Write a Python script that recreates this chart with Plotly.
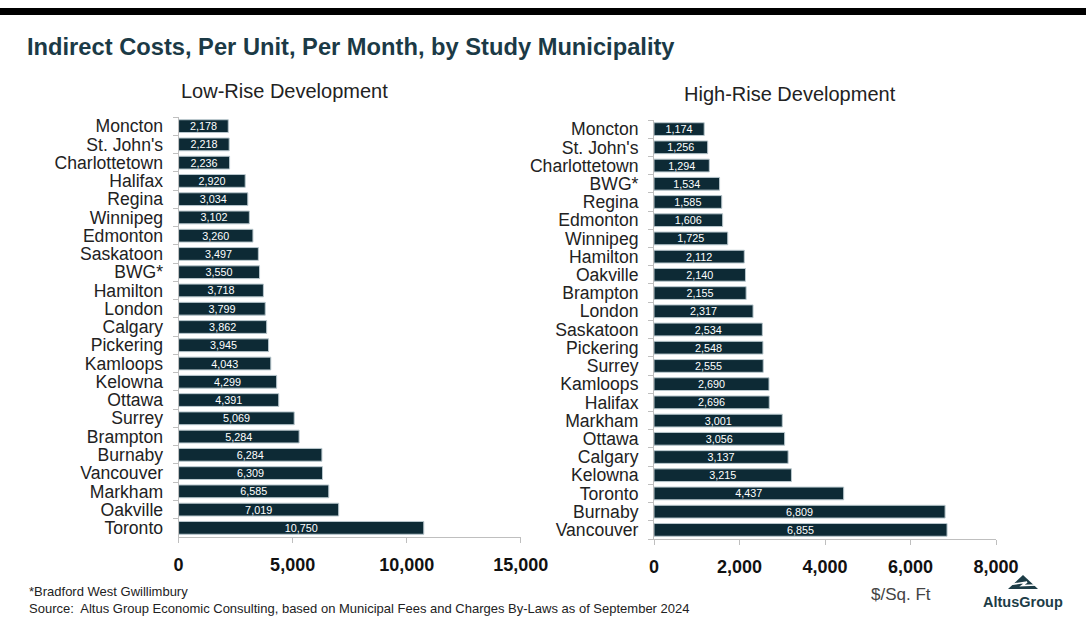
import plotly.graph_objects as go

low_cities = ["Moncton", "St. John's", "Charlottetown", "Halifax", "Regina", "Winnipeg",
              "Edmonton", "Saskatoon", "BWG*", "Hamilton", "London", "Calgary", "Pickering",
              "Kamloops", "Kelowna", "Ottawa", "Surrey", "Brampton", "Burnaby", "Vancouver",
              "Markham", "Oakville", "Toronto"]
low_values = [2178, 2218, 2236, 2920, 3034, 3102, 3260, 3497, 3550, 3718, 3799, 3862, 3945,
              4043, 4299, 4391, 5069, 5284, 6284, 6309, 6585, 7019, 10750]

high_cities = ["Moncton", "St. John's", "Charlottetown", "BWG*", "Regina", "Edmonton",
               "Winnipeg", "Hamilton", "Oakville", "Brampton", "London", "Saskatoon",
               "Pickering", "Surrey", "Kamloops", "Halifax", "Markham", "Ottawa", "Calgary",
               "Kelowna", "Toronto", "Burnaby", "Vancouver"]
high_values = [1174, 1256, 1294, 1534, 1585, 1606, 1725, 2112, 2140, 2155, 2317, 2534, 2548,
               2555, 2690, 2696, 3001, 3056, 3137, 3215, 4437, 6809, 6855]

low_ticks = [0, 5000, 10000, 15000]
high_ticks = [0, 2000, 4000, 6000, 8000]

W, H = 1086, 626
def px(x):
    return x / W
def py(y):
    return 1 - y / H

BAR = "#0d2a35"
EDGE = "#b9c8ce"
AXIS = "#bfbfbf"
FONT = "Liberation Sans, Arial, sans-serif"

fig = go.Figure()

def add_bars(cities, values, xa, ya):
    fig.add_trace(go.Bar(
        y=cities, x=values, orientation="h",
        marker=dict(color=BAR, line=dict(color=EDGE, width=1)),
        text=[f"{v:,}" for v in values],
        textposition="inside", insidetextanchor="middle",
        textangle=0, constraintext="none",
        textfont=dict(family=FONT, size=10.8, color="white"),
        xaxis=xa, yaxis=ya, showlegend=False, hoverinfo="skip",
    ))

add_bars(low_cities, low_values, "x", "y")
add_bars(high_cities, high_values, "x2", "y2")

xcommon = dict(showgrid=False, zeroline=False, showline=True, linecolor=AXIS, linewidth=1,
               ticks="outside", ticklen=5, tickcolor=AXIS, automargin=False,
               tickfont=dict(family=FONT, size=18, color="#111", weight=700),
               ticklabelstandoff=6)
ycommon = dict(showgrid=False, zeroline=False, showline=True, linecolor=AXIS, linewidth=1,
               ticks="outside", ticklen=5, tickcolor=AXIS, tickson="boundaries",
               automargin=False,
               tickfont=dict(family=FONT, size=17.6, color="#222"),
               autorange="reversed", ticklabelstandoff=11)

fig.update_layout(
    width=W, height=H, autosize=False,
    margin=dict(l=0, r=0, t=0, b=0, pad=0),
    paper_bgcolor="white", plot_bgcolor="white",
    bargap=0.3,
    xaxis=dict(domain=[px(178.6), px(520.7)], range=[0, 15000], tickvals=low_ticks,
               ticktext=[f"{t:,}" for t in low_ticks], anchor="y", **xcommon),
    yaxis=dict(domain=[py(537), py(117)], anchor="x", tickmode="array",
               tickvals=low_cities, ticktext=low_cities, **ycommon),
    xaxis2=dict(domain=[px(654), px(996)], range=[0, 8000], tickvals=high_ticks,
                ticktext=[f"{t:,}" for t in high_ticks], anchor="y2", **xcommon),
    yaxis2=dict(domain=[py(539), py(120)], anchor="x2", tickmode="array",
                tickvals=high_cities, ticktext=high_cities, **ycommon),
)

# top black band
fig.add_shape(type="rect", xref="paper", yref="paper", x0=0, x1=1, y0=py(15), y1=py(8),
              fillcolor="black", line=dict(width=0))

ann = []
ann.append(dict(text="Indirect Costs, Per Unit, Per Month, by Study Municipality",
                x=px(25), y=py(47), xanchor="left", yanchor="middle",
                font=dict(family=FONT, size=23.7, color="#1b3a46", weight=700)))
ann.append(dict(text="Low-Rise Development", x=px(284.5), y=py(91), xanchor="center",
                yanchor="middle", font=dict(family=FONT, size=20, color="#222")))
ann.append(dict(text="High-Rise Development", x=px(790), y=py(94), xanchor="center",
                yanchor="middle", font=dict(family=FONT, size=20, color="#222")))
ann.append(dict(text="*Bradford West Gwillimbury", x=px(27), y=py(591), xanchor="left",
                yanchor="middle", font=dict(family=FONT, size=13, color="#222")))
ann.append(dict(text="Source:  Altus Group Economic Consulting, based on Municipal Fees and Charges By-Laws as of September 2024",
                x=px(27), y=py(608), xanchor="left", yanchor="middle",
                font=dict(family=FONT, size=13, color="#222")))
ann.append(dict(text="$/Sq. Ft", x=px(901), y=py(594), xanchor="center", yanchor="middle",
                font=dict(family=FONT, size=17, color="#444")))
ann.append(dict(text="<b>AltusGroup</b>", x=px(1023), y=py(602), xanchor="center",
                yanchor="middle", font=dict(family=FONT, size=14.5, color="#1d3d47")))
for a in ann:
    a.update(xref="paper", yref="paper", showarrow=False)
fig.update_layout(annotations=ann)

# logo mark
tri = f"M {px(1008)},{py(589)} L {px(1023)},{py(575)} L {px(1038)},{py(589)} Z"
fig.add_shape(type="path", xref="paper", yref="paper", path=tri,
              fillcolor="#1d3d47", line=dict(width=0))
swoosh = (f"M {px(1011)},{py(584.5)} L {px(1027)},{py(582)} L {px(1022)},{py(585.5)} "
          f"L {px(1036)},{py(585)}")
fig.add_shape(type="path", xref="paper", yref="paper", path=swoosh,
              line=dict(color="white", width=1.6))

fig.write_html("out.html",
               config={"responsive": False, "displayModeBar": False, "staticPlot": True},
               post_script="document.body.style.margin='0';document.body.style.overflow='hidden';")
